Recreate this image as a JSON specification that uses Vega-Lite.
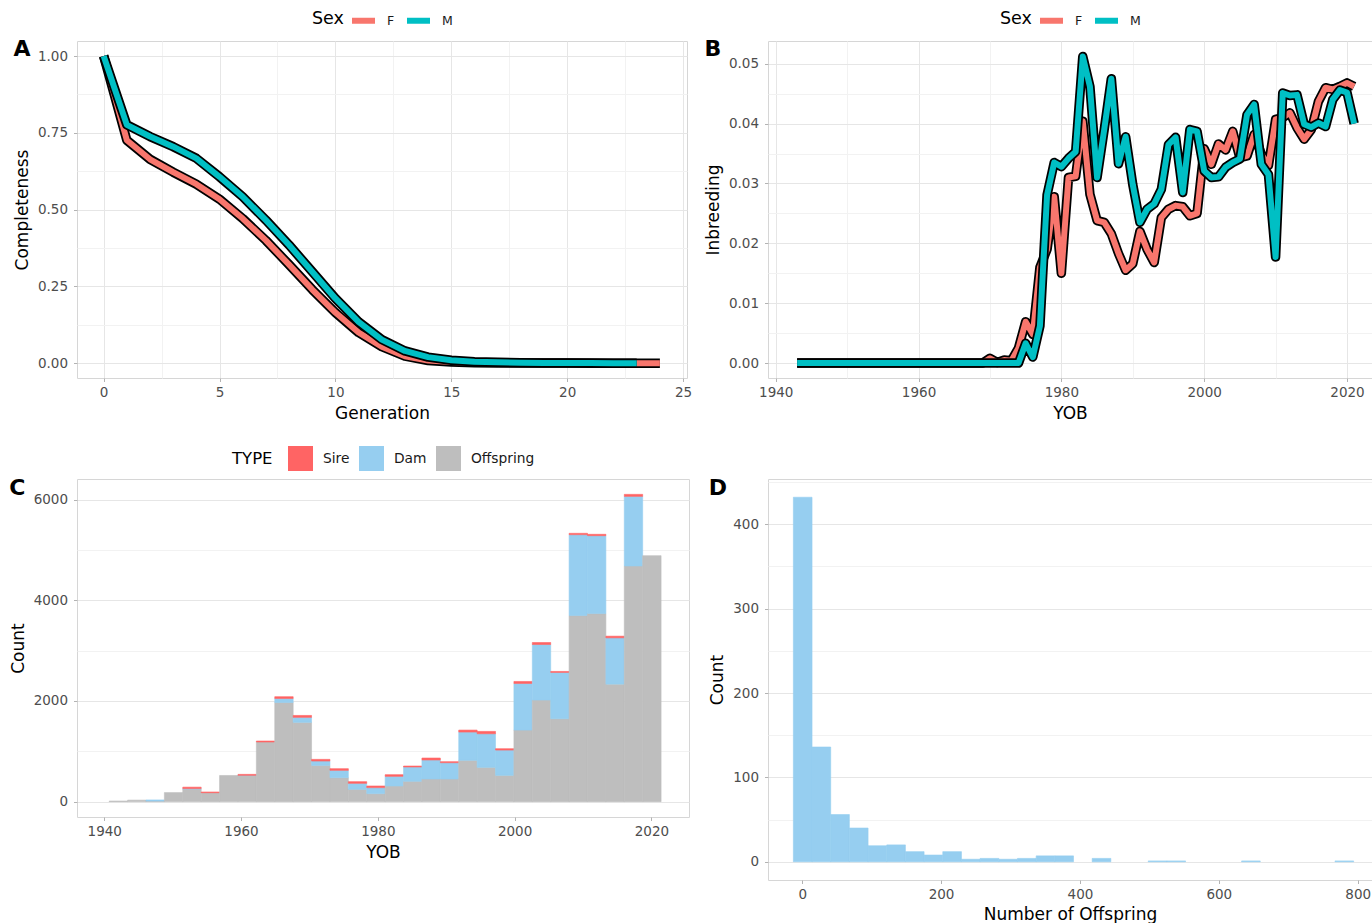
{
  "$schema": "https://vega.github.io/schema/vega-lite/v6.json",
  "background": "white",
  "autosize": {"type": "pad"},
  "padding": {"left": 8, "top": 5, "right": 0, "bottom": 0},
  "columns": 2,
  "align": "each",
  "bounds": "flush",
  "spacing": {"row": 101, "column": 79},
  "resolve": {"scale": {"color": "independent"}, "legend": {"color": "independent"}},
  "datasets": {
    "completeness": [
      {"Generation": 0, "Sex": "F", "Completeness": 1.0},
      {"Generation": 1, "Sex": "F", "Completeness": 0.726},
      {"Generation": 2, "Sex": "F", "Completeness": 0.664},
      {"Generation": 3, "Sex": "F", "Completeness": 0.622},
      {"Generation": 4, "Sex": "F", "Completeness": 0.583},
      {"Generation": 5, "Sex": "F", "Completeness": 0.534},
      {"Generation": 6, "Sex": "F", "Completeness": 0.471},
      {"Generation": 7, "Sex": "F", "Completeness": 0.4},
      {"Generation": 8, "Sex": "F", "Completeness": 0.321},
      {"Generation": 9, "Sex": "F", "Completeness": 0.24},
      {"Generation": 10, "Sex": "F", "Completeness": 0.165},
      {"Generation": 11, "Sex": "F", "Completeness": 0.1},
      {"Generation": 12, "Sex": "F", "Completeness": 0.054},
      {"Generation": 13, "Sex": "F", "Completeness": 0.023},
      {"Generation": 14, "Sex": "F", "Completeness": 0.009},
      {"Generation": 15, "Sex": "F", "Completeness": 0.004},
      {"Generation": 16, "Sex": "F", "Completeness": 0.002},
      {"Generation": 17, "Sex": "F", "Completeness": 0.001},
      {"Generation": 18, "Sex": "F", "Completeness": 0.001},
      {"Generation": 19, "Sex": "F", "Completeness": 0.0005},
      {"Generation": 20, "Sex": "F", "Completeness": 0.0005},
      {"Generation": 21, "Sex": "F", "Completeness": 0.0003},
      {"Generation": 22, "Sex": "F", "Completeness": 0.0002},
      {"Generation": 23, "Sex": "F", "Completeness": 0.0001},
      {"Generation": 24, "Sex": "F", "Completeness": 0.0001},
      {"Generation": 0, "Sex": "M", "Completeness": 1.0},
      {"Generation": 1, "Sex": "M", "Completeness": 0.776},
      {"Generation": 2, "Sex": "M", "Completeness": 0.738},
      {"Generation": 3, "Sex": "M", "Completeness": 0.705},
      {"Generation": 4, "Sex": "M", "Completeness": 0.667},
      {"Generation": 5, "Sex": "M", "Completeness": 0.607},
      {"Generation": 6, "Sex": "M", "Completeness": 0.542},
      {"Generation": 7, "Sex": "M", "Completeness": 0.466},
      {"Generation": 8, "Sex": "M", "Completeness": 0.385},
      {"Generation": 9, "Sex": "M", "Completeness": 0.298},
      {"Generation": 10, "Sex": "M", "Completeness": 0.211},
      {"Generation": 11, "Sex": "M", "Completeness": 0.135},
      {"Generation": 12, "Sex": "M", "Completeness": 0.077},
      {"Generation": 13, "Sex": "M", "Completeness": 0.04},
      {"Generation": 14, "Sex": "M", "Completeness": 0.02},
      {"Generation": 15, "Sex": "M", "Completeness": 0.01},
      {"Generation": 16, "Sex": "M", "Completeness": 0.005},
      {"Generation": 17, "Sex": "M", "Completeness": 0.003},
      {"Generation": 18, "Sex": "M", "Completeness": 0.002},
      {"Generation": 19, "Sex": "M", "Completeness": 0.001},
      {"Generation": 20, "Sex": "M", "Completeness": 0.001},
      {"Generation": 21, "Sex": "M", "Completeness": 0.0005},
      {"Generation": 22, "Sex": "M", "Completeness": 0.0003},
      {"Generation": 23, "Sex": "M", "Completeness": 0.0002}
    ],
    "inbreeding": [
      {"YOB": 1943, "Sex": "F", "Inbreeding": 0}, {"YOB": 1944, "Sex": "F", "Inbreeding": 0}, {"YOB": 1945, "Sex": "F", "Inbreeding": 0},
      {"YOB": 1946, "Sex": "F", "Inbreeding": 0}, {"YOB": 1947, "Sex": "F", "Inbreeding": 0}, {"YOB": 1948, "Sex": "F", "Inbreeding": 0},
      {"YOB": 1949, "Sex": "F", "Inbreeding": 0}, {"YOB": 1950, "Sex": "F", "Inbreeding": 0}, {"YOB": 1951, "Sex": "F", "Inbreeding": 0},
      {"YOB": 1952, "Sex": "F", "Inbreeding": 0}, {"YOB": 1953, "Sex": "F", "Inbreeding": 0}, {"YOB": 1954, "Sex": "F", "Inbreeding": 0},
      {"YOB": 1955, "Sex": "F", "Inbreeding": 0}, {"YOB": 1956, "Sex": "F", "Inbreeding": 0}, {"YOB": 1957, "Sex": "F", "Inbreeding": 0},
      {"YOB": 1958, "Sex": "F", "Inbreeding": 0}, {"YOB": 1959, "Sex": "F", "Inbreeding": 0}, {"YOB": 1960, "Sex": "F", "Inbreeding": 0},
      {"YOB": 1961, "Sex": "F", "Inbreeding": 0}, {"YOB": 1962, "Sex": "F", "Inbreeding": 0}, {"YOB": 1963, "Sex": "F", "Inbreeding": 0},
      {"YOB": 1964, "Sex": "F", "Inbreeding": 0}, {"YOB": 1965, "Sex": "F", "Inbreeding": 0}, {"YOB": 1966, "Sex": "F", "Inbreeding": 0},
      {"YOB": 1967, "Sex": "F", "Inbreeding": 0}, {"YOB": 1968, "Sex": "F", "Inbreeding": 0}, {"YOB": 1969, "Sex": "F", "Inbreeding": 0},
      {"YOB": 1970, "Sex": "F", "Inbreeding": 0.0008}, {"YOB": 1971, "Sex": "F", "Inbreeding": 0.0001}, {"YOB": 1972, "Sex": "F", "Inbreeding": 0.0005},
      {"YOB": 1973, "Sex": "F", "Inbreeding": 0.0004}, {"YOB": 1974, "Sex": "F", "Inbreeding": 0.0025}, {"YOB": 1975, "Sex": "F", "Inbreeding": 0.0069},
      {"YOB": 1976, "Sex": "F", "Inbreeding": 0.0048}, {"YOB": 1977, "Sex": "F", "Inbreeding": 0.016}, {"YOB": 1978, "Sex": "F", "Inbreeding": 0.019},
      {"YOB": 1979, "Sex": "F", "Inbreeding": 0.0278}, {"YOB": 1980, "Sex": "F", "Inbreeding": 0.015}, {"YOB": 1981, "Sex": "F", "Inbreeding": 0.031},
      {"YOB": 1982, "Sex": "F", "Inbreeding": 0.0312}, {"YOB": 1983, "Sex": "F", "Inbreeding": 0.0404}, {"YOB": 1984, "Sex": "F", "Inbreeding": 0.0282},
      {"YOB": 1985, "Sex": "F", "Inbreeding": 0.0238}, {"YOB": 1986, "Sex": "F", "Inbreeding": 0.0235}, {"YOB": 1987, "Sex": "F", "Inbreeding": 0.0216},
      {"YOB": 1988, "Sex": "F", "Inbreeding": 0.0183}, {"YOB": 1989, "Sex": "F", "Inbreeding": 0.0155}, {"YOB": 1990, "Sex": "F", "Inbreeding": 0.0166},
      {"YOB": 1991, "Sex": "F", "Inbreeding": 0.022}, {"YOB": 1992, "Sex": "F", "Inbreeding": 0.019}, {"YOB": 1993, "Sex": "F", "Inbreeding": 0.0168},
      {"YOB": 1994, "Sex": "F", "Inbreeding": 0.0243}, {"YOB": 1995, "Sex": "F", "Inbreeding": 0.0257}, {"YOB": 1996, "Sex": "F", "Inbreeding": 0.0263},
      {"YOB": 1997, "Sex": "F", "Inbreeding": 0.0261}, {"YOB": 1998, "Sex": "F", "Inbreeding": 0.0246}, {"YOB": 1999, "Sex": "F", "Inbreeding": 0.025},
      {"YOB": 2000, "Sex": "F", "Inbreeding": 0.0358}, {"YOB": 2001, "Sex": "F", "Inbreeding": 0.0332}, {"YOB": 2002, "Sex": "F", "Inbreeding": 0.0366},
      {"YOB": 2003, "Sex": "F", "Inbreeding": 0.0356}, {"YOB": 2004, "Sex": "F", "Inbreeding": 0.0387}, {"YOB": 2005, "Sex": "F", "Inbreeding": 0.0343},
      {"YOB": 2006, "Sex": "F", "Inbreeding": 0.0346}, {"YOB": 2007, "Sex": "F", "Inbreeding": 0.0382}, {"YOB": 2008, "Sex": "F", "Inbreeding": 0.0349},
      {"YOB": 2009, "Sex": "F", "Inbreeding": 0.033}, {"YOB": 2010, "Sex": "F", "Inbreeding": 0.0407}, {"YOB": 2011, "Sex": "F", "Inbreeding": 0.041},
      {"YOB": 2012, "Sex": "F", "Inbreeding": 0.0418}, {"YOB": 2013, "Sex": "F", "Inbreeding": 0.0393}, {"YOB": 2014, "Sex": "F", "Inbreeding": 0.0374},
      {"YOB": 2015, "Sex": "F", "Inbreeding": 0.039}, {"YOB": 2016, "Sex": "F", "Inbreeding": 0.0437}, {"YOB": 2017, "Sex": "F", "Inbreeding": 0.046},
      {"YOB": 2018, "Sex": "F", "Inbreeding": 0.0457}, {"YOB": 2019, "Sex": "F", "Inbreeding": 0.0462}, {"YOB": 2020, "Sex": "F", "Inbreeding": 0.0468},
      {"YOB": 2021, "Sex": "F", "Inbreeding": 0.0462},
      {"YOB": 1943, "Sex": "M", "Inbreeding": 0}, {"YOB": 1944, "Sex": "M", "Inbreeding": 0}, {"YOB": 1945, "Sex": "M", "Inbreeding": 0},
      {"YOB": 1946, "Sex": "M", "Inbreeding": 0}, {"YOB": 1947, "Sex": "M", "Inbreeding": 0}, {"YOB": 1948, "Sex": "M", "Inbreeding": 0},
      {"YOB": 1949, "Sex": "M", "Inbreeding": 0}, {"YOB": 1950, "Sex": "M", "Inbreeding": 0}, {"YOB": 1951, "Sex": "M", "Inbreeding": 0},
      {"YOB": 1952, "Sex": "M", "Inbreeding": 0}, {"YOB": 1953, "Sex": "M", "Inbreeding": 0}, {"YOB": 1954, "Sex": "M", "Inbreeding": 0},
      {"YOB": 1955, "Sex": "M", "Inbreeding": 0}, {"YOB": 1956, "Sex": "M", "Inbreeding": 0}, {"YOB": 1957, "Sex": "M", "Inbreeding": 0},
      {"YOB": 1958, "Sex": "M", "Inbreeding": 0}, {"YOB": 1959, "Sex": "M", "Inbreeding": 0}, {"YOB": 1960, "Sex": "M", "Inbreeding": 0},
      {"YOB": 1961, "Sex": "M", "Inbreeding": 0}, {"YOB": 1962, "Sex": "M", "Inbreeding": 0}, {"YOB": 1963, "Sex": "M", "Inbreeding": 0},
      {"YOB": 1964, "Sex": "M", "Inbreeding": 0}, {"YOB": 1965, "Sex": "M", "Inbreeding": 0}, {"YOB": 1966, "Sex": "M", "Inbreeding": 0},
      {"YOB": 1967, "Sex": "M", "Inbreeding": 0}, {"YOB": 1968, "Sex": "M", "Inbreeding": 0}, {"YOB": 1969, "Sex": "M", "Inbreeding": 0},
      {"YOB": 1970, "Sex": "M", "Inbreeding": 0}, {"YOB": 1971, "Sex": "M", "Inbreeding": 0}, {"YOB": 1972, "Sex": "M", "Inbreeding": 0},
      {"YOB": 1973, "Sex": "M", "Inbreeding": 0}, {"YOB": 1974, "Sex": "M", "Inbreeding": 0}, {"YOB": 1975, "Sex": "M", "Inbreeding": 0.0033},
      {"YOB": 1976, "Sex": "M", "Inbreeding": 0.001}, {"YOB": 1977, "Sex": "M", "Inbreeding": 0.0062}, {"YOB": 1978, "Sex": "M", "Inbreeding": 0.0281},
      {"YOB": 1979, "Sex": "M", "Inbreeding": 0.0335}, {"YOB": 1980, "Sex": "M", "Inbreeding": 0.0328}, {"YOB": 1981, "Sex": "M", "Inbreeding": 0.0342},
      {"YOB": 1982, "Sex": "M", "Inbreeding": 0.0353}, {"YOB": 1983, "Sex": "M", "Inbreeding": 0.0512}, {"YOB": 1984, "Sex": "M", "Inbreeding": 0.0462},
      {"YOB": 1985, "Sex": "M", "Inbreeding": 0.031}, {"YOB": 1986, "Sex": "M", "Inbreeding": 0.039}, {"YOB": 1987, "Sex": "M", "Inbreeding": 0.0475},
      {"YOB": 1988, "Sex": "M", "Inbreeding": 0.0333}, {"YOB": 1989, "Sex": "M", "Inbreeding": 0.0378}, {"YOB": 1990, "Sex": "M", "Inbreeding": 0.0298},
      {"YOB": 1991, "Sex": "M", "Inbreeding": 0.0235}, {"YOB": 1992, "Sex": "M", "Inbreeding": 0.0257}, {"YOB": 1993, "Sex": "M", "Inbreeding": 0.0266},
      {"YOB": 1994, "Sex": "M", "Inbreeding": 0.029}, {"YOB": 1995, "Sex": "M", "Inbreeding": 0.0365}, {"YOB": 1996, "Sex": "M", "Inbreeding": 0.0377},
      {"YOB": 1997, "Sex": "M", "Inbreeding": 0.0285}, {"YOB": 1998, "Sex": "M", "Inbreeding": 0.039}, {"YOB": 1999, "Sex": "M", "Inbreeding": 0.0387},
      {"YOB": 2000, "Sex": "M", "Inbreeding": 0.0321}, {"YOB": 2001, "Sex": "M", "Inbreeding": 0.031}, {"YOB": 2002, "Sex": "M", "Inbreeding": 0.0311},
      {"YOB": 2003, "Sex": "M", "Inbreeding": 0.0327}, {"YOB": 2004, "Sex": "M", "Inbreeding": 0.0335}, {"YOB": 2005, "Sex": "M", "Inbreeding": 0.0341},
      {"YOB": 2006, "Sex": "M", "Inbreeding": 0.0415}, {"YOB": 2007, "Sex": "M", "Inbreeding": 0.0432}, {"YOB": 2008, "Sex": "M", "Inbreeding": 0.0332},
      {"YOB": 2009, "Sex": "M", "Inbreeding": 0.0315}, {"YOB": 2010, "Sex": "M", "Inbreeding": 0.0177}, {"YOB": 2011, "Sex": "M", "Inbreeding": 0.0451},
      {"YOB": 2012, "Sex": "M", "Inbreeding": 0.0447}, {"YOB": 2013, "Sex": "M", "Inbreeding": 0.0448}, {"YOB": 2014, "Sex": "M", "Inbreeding": 0.0399},
      {"YOB": 2015, "Sex": "M", "Inbreeding": 0.0394}, {"YOB": 2016, "Sex": "M", "Inbreeding": 0.0401}, {"YOB": 2017, "Sex": "M", "Inbreeding": 0.0395},
      {"YOB": 2018, "Sex": "M", "Inbreeding": 0.044}, {"YOB": 2019, "Sex": "M", "Inbreeding": 0.0456}, {"YOB": 2020, "Sex": "M", "Inbreeding": 0.0452},
      {"YOB": 2021, "Sex": "M", "Inbreeding": 0.04}
    ],
    "yob_counts": [
      {"start": 1940.655, "end": 1943.345, "TYPE": "Offspring", "n": 12},
      {"start": 1943.345, "end": 1946.034, "TYPE": "Offspring", "n": 30},
      {"start": 1946.034, "end": 1948.724, "TYPE": "Offspring", "n": 12},
      {"start": 1946.034, "end": 1948.724, "TYPE": "Dam", "n": 22},
      {"start": 1948.724, "end": 1951.414, "TYPE": "Offspring", "n": 180},
      {"start": 1951.414, "end": 1954.103, "TYPE": "Offspring", "n": 250},
      {"start": 1951.414, "end": 1954.103, "TYPE": "Dam", "n": 10},
      {"start": 1951.414, "end": 1954.103, "TYPE": "Sire", "n": 28},
      {"start": 1954.103, "end": 1956.793, "TYPE": "Offspring", "n": 178},
      {"start": 1954.103, "end": 1956.793, "TYPE": "Sire", "n": 14},
      {"start": 1956.793, "end": 1959.483, "TYPE": "Offspring", "n": 520},
      {"start": 1959.483, "end": 1962.172, "TYPE": "Offspring", "n": 518},
      {"start": 1959.483, "end": 1962.172, "TYPE": "Dam", "n": 4},
      {"start": 1959.483, "end": 1962.172, "TYPE": "Sire", "n": 20},
      {"start": 1962.172, "end": 1964.862, "TYPE": "Offspring", "n": 1185},
      {"start": 1962.172, "end": 1964.862, "TYPE": "Sire", "n": 20},
      {"start": 1964.862, "end": 1967.552, "TYPE": "Offspring", "n": 1970},
      {"start": 1964.862, "end": 1967.552, "TYPE": "Dam", "n": 80},
      {"start": 1964.862, "end": 1967.552, "TYPE": "Sire", "n": 35},
      {"start": 1967.552, "end": 1970.241, "TYPE": "Offspring", "n": 1575},
      {"start": 1967.552, "end": 1970.241, "TYPE": "Dam", "n": 100},
      {"start": 1967.552, "end": 1970.241, "TYPE": "Sire", "n": 38},
      {"start": 1970.241, "end": 1972.931, "TYPE": "Offspring", "n": 720},
      {"start": 1970.241, "end": 1972.931, "TYPE": "Dam", "n": 87},
      {"start": 1970.241, "end": 1972.931, "TYPE": "Sire", "n": 33},
      {"start": 1972.931, "end": 1975.621, "TYPE": "Offspring", "n": 476},
      {"start": 1972.931, "end": 1975.621, "TYPE": "Dam", "n": 146},
      {"start": 1972.931, "end": 1975.621, "TYPE": "Sire", "n": 33},
      {"start": 1975.621, "end": 1978.31, "TYPE": "Offspring", "n": 245},
      {"start": 1975.621, "end": 1978.31, "TYPE": "Dam", "n": 119},
      {"start": 1975.621, "end": 1978.31, "TYPE": "Sire", "n": 33},
      {"start": 1978.31, "end": 1981.0, "TYPE": "Offspring", "n": 159},
      {"start": 1978.31, "end": 1981.0, "TYPE": "Dam", "n": 119},
      {"start": 1978.31, "end": 1981.0, "TYPE": "Sire", "n": 33},
      {"start": 1981.0, "end": 1983.69, "TYPE": "Offspring", "n": 311},
      {"start": 1981.0, "end": 1983.69, "TYPE": "Dam", "n": 192},
      {"start": 1981.0, "end": 1983.69, "TYPE": "Sire", "n": 33},
      {"start": 1983.69, "end": 1986.379, "TYPE": "Offspring", "n": 404},
      {"start": 1983.69, "end": 1986.379, "TYPE": "Dam", "n": 284},
      {"start": 1983.69, "end": 1986.379, "TYPE": "Sire", "n": 20},
      {"start": 1986.379, "end": 1989.069, "TYPE": "Offspring", "n": 450},
      {"start": 1986.379, "end": 1989.069, "TYPE": "Dam", "n": 377},
      {"start": 1986.379, "end": 1989.069, "TYPE": "Sire", "n": 40},
      {"start": 1989.069, "end": 1991.759, "TYPE": "Offspring", "n": 450},
      {"start": 1989.069, "end": 1991.759, "TYPE": "Dam", "n": 324},
      {"start": 1989.069, "end": 1991.759, "TYPE": "Sire", "n": 20},
      {"start": 1991.759, "end": 1994.448, "TYPE": "Offspring", "n": 820},
      {"start": 1991.759, "end": 1994.448, "TYPE": "Dam", "n": 563},
      {"start": 1991.759, "end": 1994.448, "TYPE": "Sire", "n": 39},
      {"start": 1994.448, "end": 1997.138, "TYPE": "Offspring", "n": 681},
      {"start": 1994.448, "end": 1997.138, "TYPE": "Dam", "n": 668},
      {"start": 1994.448, "end": 1997.138, "TYPE": "Sire", "n": 47},
      {"start": 1997.138, "end": 1999.828, "TYPE": "Offspring", "n": 522},
      {"start": 1997.138, "end": 1999.828, "TYPE": "Dam", "n": 503},
      {"start": 1997.138, "end": 1999.828, "TYPE": "Sire", "n": 27},
      {"start": 1999.828, "end": 2002.517, "TYPE": "Offspring", "n": 1422},
      {"start": 1999.828, "end": 2002.517, "TYPE": "Dam", "n": 926},
      {"start": 1999.828, "end": 2002.517, "TYPE": "Sire", "n": 40},
      {"start": 2002.517, "end": 2005.207, "TYPE": "Offspring", "n": 2018},
      {"start": 2002.517, "end": 2005.207, "TYPE": "Dam", "n": 1104},
      {"start": 2002.517, "end": 2005.207, "TYPE": "Sire", "n": 40},
      {"start": 2005.207, "end": 2007.897, "TYPE": "Offspring", "n": 1647},
      {"start": 2005.207, "end": 2007.897, "TYPE": "Dam", "n": 920},
      {"start": 2005.207, "end": 2007.897, "TYPE": "Sire", "n": 20},
      {"start": 2007.897, "end": 2010.586, "TYPE": "Offspring", "n": 3698},
      {"start": 2007.897, "end": 2010.586, "TYPE": "Dam", "n": 1607},
      {"start": 2007.897, "end": 2010.586, "TYPE": "Sire", "n": 27},
      {"start": 2010.586, "end": 2013.276, "TYPE": "Offspring", "n": 3737},
      {"start": 2010.586, "end": 2013.276, "TYPE": "Dam", "n": 1548},
      {"start": 2010.586, "end": 2013.276, "TYPE": "Sire", "n": 27},
      {"start": 2013.276, "end": 2015.966, "TYPE": "Offspring", "n": 2335},
      {"start": 2013.276, "end": 2015.966, "TYPE": "Dam", "n": 920},
      {"start": 2013.276, "end": 2015.966, "TYPE": "Sire", "n": 33},
      {"start": 2015.966, "end": 2018.655, "TYPE": "Offspring", "n": 4683},
      {"start": 2015.966, "end": 2018.655, "TYPE": "Dam", "n": 1383},
      {"start": 2015.966, "end": 2018.655, "TYPE": "Sire", "n": 40},
      {"start": 2018.655, "end": 2021.345, "TYPE": "Offspring", "n": 4888}
    ],
    "offspring_counts": [
      {"lo": -13.448, "hi": 13.448, "Count": 432},
      {"lo": 13.448, "hi": 40.345, "Count": 136},
      {"lo": 40.345, "hi": 67.241, "Count": 56},
      {"lo": 67.241, "hi": 94.138, "Count": 40},
      {"lo": 94.138, "hi": 121.034, "Count": 19},
      {"lo": 121.034, "hi": 147.931, "Count": 20},
      {"lo": 147.931, "hi": 174.828, "Count": 12},
      {"lo": 174.828, "hi": 201.724, "Count": 8},
      {"lo": 201.724, "hi": 228.621, "Count": 12},
      {"lo": 228.621, "hi": 255.517, "Count": 3},
      {"lo": 255.517, "hi": 282.414, "Count": 4},
      {"lo": 282.414, "hi": 309.31, "Count": 3},
      {"lo": 309.31, "hi": 336.207, "Count": 4},
      {"lo": 336.207, "hi": 363.103, "Count": 7},
      {"lo": 363.103, "hi": 390.0, "Count": 7},
      {"lo": 416.897, "hi": 443.793, "Count": 4},
      {"lo": 497.586, "hi": 524.483, "Count": 1},
      {"lo": 524.483, "hi": 551.379, "Count": 1},
      {"lo": 632.069, "hi": 658.966, "Count": 1},
      {"lo": 766.552, "hi": 793.448, "Count": 1}
    ]
  },
  "concat": [
    {
      "width": 610,
      "height": 337,
      "title": {"text": "A", "anchor": "start", "frame": "bounds", "fontSize": 22, "fontWeight": "bold", "color": "#000000", "offset": 0, "baseline": "bottom", "dy": 77},
      "data": {"name": "completeness"},
      "encoding": {
        "x": {
          "field": "Generation", "type": "quantitative",
          "scale": {"domain": [-1.15, 25.17], "nice": false, "zero": false},
          "axis": {
            "title": "Generation",
            "values": [0, 2.5, 5, 7.5, 10, 12.5, 15, 17.5, 20, 22.5, 25],
            "labelExpr": "datum.value % 5 == 0 ? datum.label : ''",
            "tickOpacity": {"condition": {"test": "datum.value % 5 == 0", "value": 1}, "value": 0},
            "gridColor": {"condition": {"test": "datum.value % 5 == 0", "value": "#e6e6e6"}, "value": "#f2f2f2"}
          }
        },
        "y": {
          "field": "Completeness", "type": "quantitative",
          "scale": {"domain": [-0.048, 1.049], "nice": false, "zero": false},
          "axis": {
            "title": "Completeness", "format": ".2f",
            "values": [0, 0.125, 0.25, 0.375, 0.5, 0.625, 0.75, 0.875, 1],
            "labelExpr": "round(datum.value * 1000) % 250 == 0 ? datum.label : ''",
            "tickOpacity": {"condition": {"test": "round(datum.value * 1000) % 250 == 0", "value": 1}, "value": 0},
            "gridColor": {"condition": {"test": "round(datum.value * 1000) % 250 == 0", "value": "#e6e6e6"}, "value": "#f2f2f2"}
          }
        }
      },
      "layer": [
        {"transform": [{"filter": "datum.Sex === 'F'"}], "mark": {"type": "line", "color": "#000000", "strokeWidth": 9.5, "strokeJoin": "round", "strokeCap": "butt"}, "encoding": {}},
        {"transform": [{"filter": "datum.Sex === 'F'"}], "mark": {"type": "line", "strokeWidth": 6, "strokeJoin": "round", "strokeCap": "butt"},
         "encoding": {"color": {"field": "Sex", "type": "nominal", "scale": {"domain": ["F", "M"], "range": ["#F8766D", "#00BFC4"]}, "legend": {"title": "Sex"}}}},
        {"transform": [{"filter": "datum.Sex === 'M'"}], "mark": {"type": "line", "color": "#000000", "strokeWidth": 9.5, "strokeJoin": "round", "strokeCap": "butt"}, "encoding": {}},
        {"transform": [{"filter": "datum.Sex === 'M'"}], "mark": {"type": "line", "strokeWidth": 6, "strokeJoin": "round", "strokeCap": "butt"},
         "encoding": {"color": {"field": "Sex", "type": "nominal", "scale": {"domain": ["F", "M"], "range": ["#F8766D", "#00BFC4"]}, "legend": {"title": "Sex"}}}}
      ]
    },
    {
      "width": 604,
      "height": 337,
      "title": {"text": "B", "anchor": "start", "frame": "bounds", "fontSize": 22, "fontWeight": "bold", "color": "#000000", "offset": 0, "baseline": "bottom", "dy": 77},
      "data": {"name": "inbreeding"},
      "encoding": {
        "x": {
          "field": "YOB", "type": "quantitative",
          "scale": {"domain": [1938.92, 2023.5], "nice": false, "zero": false},
          "axis": {
            "title": "YOB", "format": "d",
            "values": [1940, 1950, 1960, 1970, 1980, 1990, 2000, 2010, 2020],
            "labelExpr": "datum.value % 20 == 0 ? datum.label : ''",
            "tickOpacity": {"condition": {"test": "datum.value % 20 == 0", "value": 1}, "value": 0},
            "gridColor": {"condition": {"test": "datum.value % 20 == 0", "value": "#e6e6e6"}, "value": "#f2f2f2"}
          }
        },
        "y": {
          "field": "Inbreeding", "type": "quantitative",
          "scale": {"domain": [-0.0025, 0.0538], "nice": false, "zero": false},
          "axis": {
            "title": "Inbreeding", "format": ".2f",
            "values": [0, 0.005, 0.01, 0.015, 0.02, 0.025, 0.03, 0.035, 0.04, 0.045, 0.05],
            "labelExpr": "round(datum.value * 1000) % 10 == 0 ? datum.label : ''",
            "tickOpacity": {"condition": {"test": "round(datum.value * 1000) % 10 == 0", "value": 1}, "value": 0},
            "gridColor": {"condition": {"test": "round(datum.value * 1000) % 10 == 0", "value": "#e6e6e6"}, "value": "#f2f2f2"}
          }
        }
      },
      "layer": [
        {"transform": [{"filter": "datum.Sex === 'F'"}], "mark": {"type": "line", "color": "#000000", "strokeWidth": 9.5, "strokeJoin": "round", "strokeCap": "butt"}, "encoding": {}},
        {"transform": [{"filter": "datum.Sex === 'F'"}], "mark": {"type": "line", "strokeWidth": 6, "strokeJoin": "round", "strokeCap": "butt"},
         "encoding": {"color": {"field": "Sex", "type": "nominal", "scale": {"domain": ["F", "M"], "range": ["#F8766D", "#00BFC4"]}, "legend": {"title": "Sex"}}}},
        {"transform": [{"filter": "datum.Sex === 'M'"}], "mark": {"type": "line", "color": "#000000", "strokeWidth": 9.5, "strokeJoin": "round", "strokeCap": "butt"}, "encoding": {}},
        {"transform": [{"filter": "datum.Sex === 'M'"}], "mark": {"type": "line", "strokeWidth": 6, "strokeJoin": "round", "strokeCap": "butt"},
         "encoding": {"color": {"field": "Sex", "type": "nominal", "scale": {"domain": ["F", "M"], "range": ["#F8766D", "#00BFC4"]}, "legend": {"title": "Sex"}}}}
      ]
    },
    {
      "width": 612,
      "height": 338,
      "title": {"text": "C", "anchor": "start", "frame": "bounds", "fontSize": 22, "fontWeight": "bold", "color": "#000000", "offset": 0, "baseline": "bottom", "dy": 76},
      "data": {"name": "yob_counts"},
      "transform": [{"calculate": "indexof(['Offspring', 'Dam', 'Sire'], datum.TYPE)", "as": "stack_rank"}],
      "mark": {"type": "bar", "binSpacing": 0, "strokeWidth": 0.6},
      "encoding": {
        "x": {
          "field": "start", "type": "quantitative", "bin": "binned",
          "scale": {"domain": [1936.02, 2025.5], "nice": false, "zero": false},
          "axis": {
            "title": "YOB", "format": "d",
            "values": [1940, 1950, 1960, 1970, 1980, 1990, 2000, 2010, 2020],
            "labelExpr": "datum.value % 20 == 0 ? datum.label : ''",
            "tickOpacity": {"condition": {"test": "datum.value % 20 == 0", "value": 1}, "value": 0},
            "gridColor": {"condition": {"test": "datum.value % 20 == 0", "value": "#e6e6e6"}, "value": "#f2f2f2"}
          }
        },
        "x2": {"field": "end"},
        "y": {
          "field": "n", "type": "quantitative", "stack": "zero",
          "scale": {"domain": [-305, 6411], "nice": false, "zero": false},
          "axis": {
            "title": "Count", "format": "d",
            "values": [0, 1000, 2000, 3000, 4000, 5000, 6000],
            "labelExpr": "datum.value % 2000 == 0 ? datum.label : ''",
            "tickOpacity": {"condition": {"test": "datum.value % 2000 == 0", "value": 1}, "value": 0},
            "gridColor": {"condition": {"test": "datum.value % 2000 == 0", "value": "#e6e6e6"}, "value": "#f2f2f2"}
          }
        },
        "color": {
          "field": "TYPE", "type": "nominal",
          "scale": {"domain": ["Sire", "Dam", "Offspring"], "range": ["#FF6464", "#96CEF0", "#BEBEBE"]},
          "legend": {"title": "TYPE", "symbolType": "square", "symbolSize": 625, "symbolStrokeWidth": 0, "labelFontSize": 13.8, "titleFontSize": 16.5, "labelOffset": 10, "columnPadding": 9, "titlePadding": 15}
        },
        "stroke": {
          "field": "TYPE", "type": "nominal",
          "scale": {"domain": ["Sire", "Dam", "Offspring"], "range": ["#FF6464", "#96CEF0", "#BEBEBE"]},
          "legend": null
        },
        "order": {"field": "stack_rank", "type": "quantitative"}
      }
    },
    {
      "width": 604,
      "height": 401,
      "title": {"text": "D", "anchor": "start", "frame": "bounds", "fontSize": 22, "fontWeight": "bold", "color": "#000000", "offset": 0, "baseline": "bottom", "dy": 47},
      "data": {"name": "offspring_counts"},
      "mark": {"type": "bar", "color": "#96CEF0", "stroke": "#96CEF0", "strokeWidth": 0.6, "binSpacing": 0},
      "encoding": {
        "x": {
          "field": "lo", "type": "quantitative", "bin": "binned",
          "scale": {"domain": [-49.25, 820.6], "nice": false, "zero": false},
          "axis": {
            "title": "Number of Offspring", "titlePadding": 5.5,
            "values": [0, 100, 200, 300, 400, 500, 600, 700, 800],
            "labelExpr": "datum.value % 200 == 0 ? datum.label : ''",
            "tickOpacity": {"condition": {"test": "datum.value % 200 == 0", "value": 1}, "value": 0},
            "gridColor": {"condition": {"test": "datum.value % 200 == 0", "value": "#e6e6e6"}, "value": "#f2f2f2"}
          }
        },
        "x2": {"field": "hi"},
        "y": {
          "field": "Count", "type": "quantitative",
          "scale": {"domain": [-21.6, 453.6], "nice": false, "zero": false},
          "axis": {
            "title": "Count",
            "values": [0, 50, 100, 150, 200, 250, 300, 350, 400, 450],
            "labelExpr": "datum.value % 100 == 0 ? datum.label : ''",
            "tickOpacity": {"condition": {"test": "datum.value % 100 == 0", "value": 1}, "value": 0},
            "gridColor": {"condition": {"test": "datum.value % 100 == 0", "value": "#e6e6e6"}, "value": "#f2f2f2"}
          }
        }
      }
    }
  ],
  "config": {
    "font": "DejaVu Sans",
    "view": {"stroke": "#d6d6d6", "strokeWidth": 1},
    "title": {"font": "DejaVu Sans"},
    "axis": {
      "domain": false,
      "labelFont": "DejaVu Sans",
      "labelColor": "#4d4d4d",
      "labelFontSize": 13.5,
      "labelFlush": false,
      "labelOverlap": false,
      "labelBound": false,
      "tickColor": "#b3b3b3",
      "tickSize": 3.5,
      "tickWidth": 1,
      "gridWidth": 1,
      "titleFont": "DejaVu Sans",
      "titleColor": "#000000",
      "titleFontSize": 17,
      "titleFontWeight": "normal"
    },
    "axisX": {"labelPadding": 3.5, "titlePadding": 6.5},
    "axisY": {"labelPadding": 6, "titlePadding": 6},
    "legend": {
      "orient": "top",
      "direction": "horizontal",
      "titleOrient": "left",
      "titleAnchor": "middle",
      "titleBaseline": "middle",
      "titleFont": "DejaVu Sans",
      "titleFontWeight": "normal",
      "titleFontSize": 17.5,
      "titleColor": "#000000",
      "titlePadding": 5,
      "labelFont": "DejaVu Sans",
      "labelFontSize": 12.5,
      "labelColor": "#1a1a1a",
      "labelOffset": 9,
      "columnPadding": 0,
      "symbolType": "stroke",
      "symbolStrokeWidth": 6,
      "symbolSize": 529,
      "offset": 8,
      "padding": 0,
      "layout": {"top": {"anchor": "middle"}}
    }
  }
}
